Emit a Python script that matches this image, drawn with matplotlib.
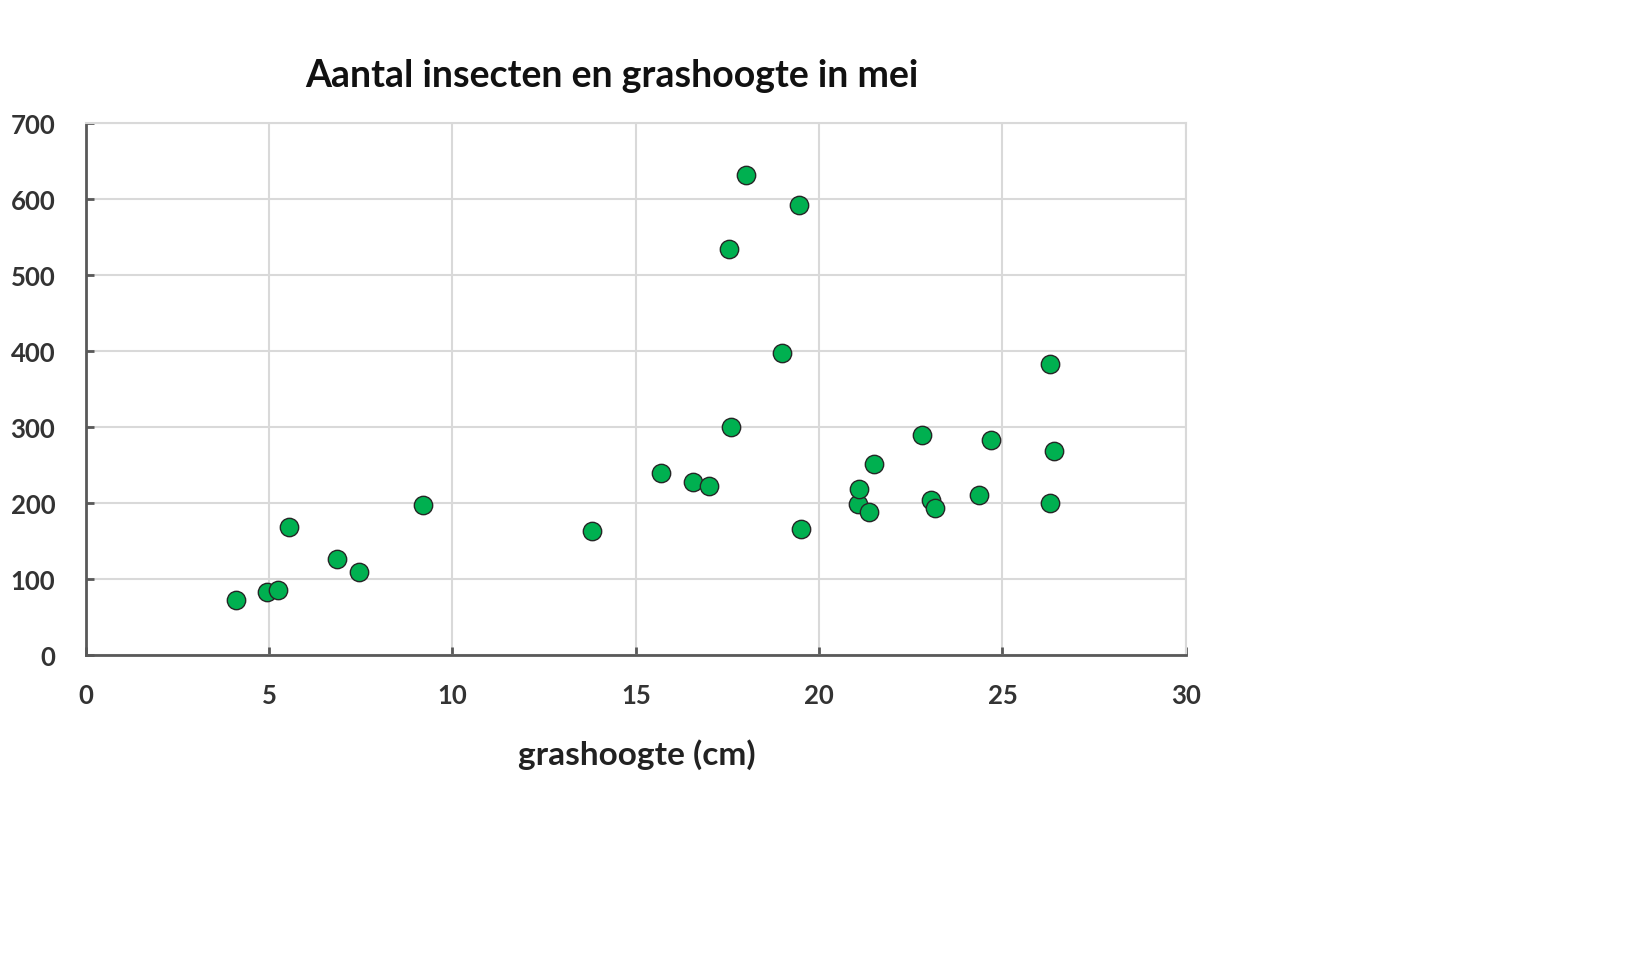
import matplotlib
matplotlib.use("Agg")
import matplotlib.pyplot as plt

# Data
grashoogte = [4.1, 4.95, 5.25, 5.55, 6.85, 7.45, 9.2, 13.8, 15.7, 16.55, 17.0,
              17.6, 17.55, 18.0, 19.45, 19.0, 19.5, 21.05, 21.1, 21.35, 21.5,
              22.8, 23.05, 23.15, 24.35, 24.7, 26.3, 26.4, 26.3]
insecten = [72, 83, 86, 168, 126, 109, 197, 163, 240, 228, 223,
            300, 534, 631, 591, 397, 166, 199, 218, 188, 251,
            289, 204, 194, 211, 283, 383, 269, 200]

x_ticks = [0, 5, 10, 15, 20, 25, 30]
y_ticks = [0, 100, 200, 300, 400, 500, 600, 700]

title = "Aantal insecten en grashoogte in mei"
xlabel = "grashoogte (cm)"

plt.rcParams['font.family'] = ['Lato', 'DejaVu Sans']

fig = plt.figure(figsize=(16.41, 9.78), dpi=100)
ax = fig.add_axes([0.0523, 0.329, 0.6703, 0.5447])

ax.scatter(grashoogte, insecten, s=175, color='#00B050', edgecolors='#262626',
           linewidths=1.0, zorder=3)

ax.set_xlim(0, 30)
ax.set_ylim(0, 700)
ax.set_xticks(x_ticks)
ax.set_yticks(y_ticks)
ax.grid(True, color='#D9D9D9', linewidth=1.5, zorder=0)
ax.set_axisbelow(True)

for side in ['top', 'right']:
    ax.spines[side].set_color('#D9D9D9')
    ax.spines[side].set_linewidth(1.5)
for side in ['left', 'bottom']:
    ax.spines[side].set_color('#595959')
    ax.spines[side].set_linewidth(2.0)

ax.tick_params(axis='both', direction='in', length=6, width=2, color='#595959',
               labelsize=18.5, labelcolor='#333333')
ax.tick_params(axis='x', pad=20)
ax.tick_params(axis='y', pad=22)
for lab in ax.get_xticklabels() + ax.get_yticklabels():
    lab.set_fontweight('bold')

fig.text(0.373, 1 - 76 / 978, title, ha='center', va='center',
         fontsize=27, fontweight='bold', color='#111111')
fig.text(0.388, 1 - 755 / 978, xlabel, ha='center', va='center',
         fontsize=24, fontweight='bold', color='#222222')

fig.savefig('out.png', dpi=100)
